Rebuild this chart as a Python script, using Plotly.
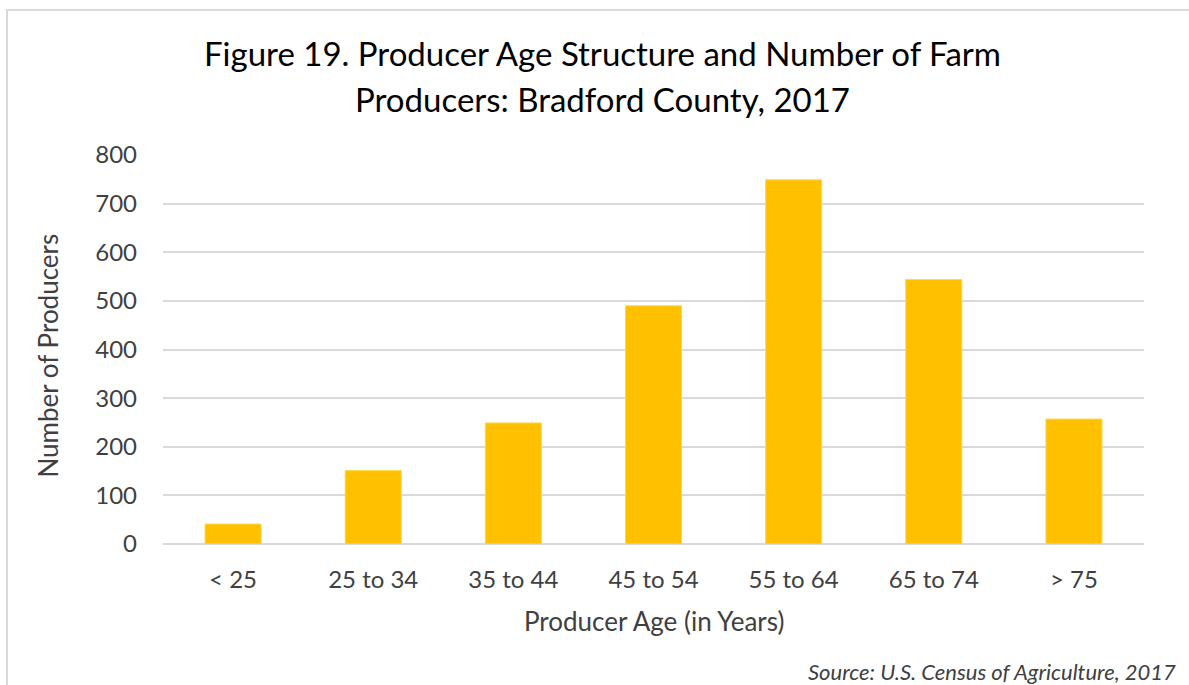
import plotly.graph_objects as go

categories = ["< 25", "25 to 34", "35 to 44", "45 to 54", "55 to 64", "65 to 74", "> 75"]
producers = [41, 151, 249, 490, 749, 544, 257]
y_ticks = [0, 100, 200, 300, 400, 500, 600, 700, 800]

FONT = "Lato"
TXT = "#404040"

fig = go.Figure()
fig.add_trace(go.Bar(
    x=categories, y=producers,
    marker=dict(color="#FFC000", line=dict(color="#FFD84D", width=1)),
    width=0.4,
))

fig.update_layout(
    width=1189, height=685,
    margin=dict(l=163, r=45, t=155, b=141, autoexpand=False),
    paper_bgcolor="white", plot_bgcolor="white",
    showlegend=False,
    font=dict(family=FONT, color=TXT),
    xaxis=dict(
        showgrid=False, showline=False, ticks="",
        tickfont=dict(size=24, color=TXT),
        ticklabelstandoff=19,
    ),
    yaxis=dict(
        range=[0, 800], tickvals=y_ticks,
        showgrid=True, gridcolor="#D9D9D9", gridwidth=1.5,
        zeroline=True, zerolinecolor="#D9D9D9", zerolinewidth=1.5,
        showline=False, ticks="",
        tickfont=dict(size=24, color=TXT),
        ticklabelstandoff=25,
    ),
    shapes=[dict(
        type="rect", xref="paper", yref="paper",
        x0=-0.159, x1=1.3, y0=-0.6, y1=1.373,
        line=dict(color="#D9D9D9", width=2), fillcolor="rgba(0,0,0,0)", layer="below",
    )],
    annotations=[
        dict(text="Figure 19. Producer Age Structure and Number of Farm",
             xref="paper", yref="paper", x=0.4485, y=1.2615,
             xanchor="center", yanchor="middle", showarrow=False,
             font=dict(family=FONT, size=33, color="#000000")),
        dict(text="Producers: Bradford County, 2017",
             xref="paper", yref="paper", x=0.4485, y=1.1436,
             xanchor="center", yanchor="middle", showarrow=False,
             font=dict(family=FONT, size=33, color="#000000")),
        dict(text="Producer Age (in Years)",
             xref="paper", yref="paper", x=0.5005, y=-0.198,
             xanchor="center", yanchor="middle", showarrow=False,
             font=dict(family=FONT, size=26, color=TXT)),
        dict(text="Number of Producers", textangle=-90,
             xref="paper", yref="paper", x=-0.1172, y=0.4846,
             xanchor="center", yanchor="middle", showarrow=False,
             font=dict(family=FONT, size=26, color=TXT)),
        dict(text="<i>Source: U.S. Census of Agriculture, 2017</i>",
             xref="paper", yref="paper", x=1.0347, y=-0.3282,
             xanchor="right", yanchor="middle", showarrow=False,
             font=dict(family=FONT, size=22, color=TXT)),
    ],
)

fig.write_html("out.html", config={"displayModeBar": False},
               post_script="document.body.style.margin='0';")
